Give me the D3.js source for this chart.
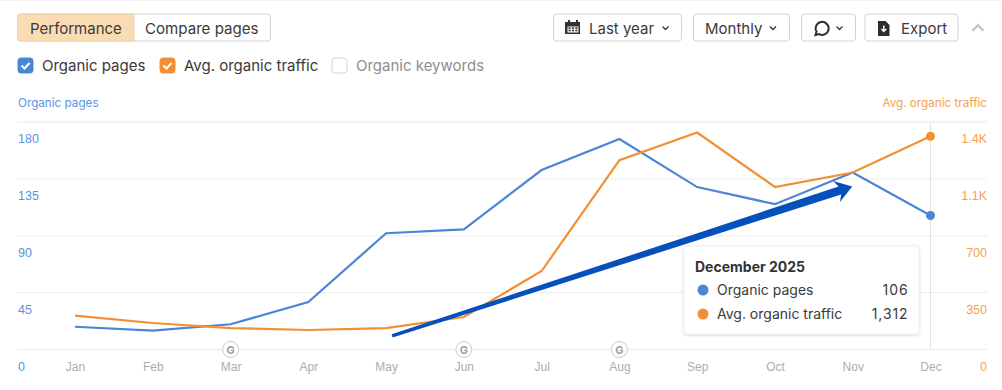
<!DOCTYPE html>
<html>
<head>
<meta charset="utf-8">
<script src="https://cdn.jsdelivr.net/npm/d3@7"></script>
<style>
  html, body { margin: 0; padding: 0; background: #fff; }
  svg { display: block; font-family: Inter, "Noto Sans", sans-serif; }
</style>
</head>
<body>
<div id="chart-container"></div>
<script>
// Chart data
const months = ["Jan", "Feb", "Mar", "Apr", "May", "Jun", "Jul", "Aug", "Sep", "Oct", "Nov", "Dec"];
const organicPages = [18, 15, 20, 37.5, 92, 95, 142, 166.5, 128.5, 115, 140, 106];
const avgTraffic = [209, 163, 132, 120, 132, 200, 483, 1165, 1335, 1000, 1089, 1312];
const leftTicks = [0, 45, 90, 135, 180];
const rightTicks = [0, 350, 700, 1050, 1400];
const rightTickLabels = ["0", "350", "700", "1.1K", "1.4K"];
const googleUpdates = ["Mar", "Jun", "Aug"];

const blue = "#4a86d8";
const orange = "#f28f33";
const width = 1002, height = 390;
const plotTop = 122, plotBottom = 349.5, gridLeft = 17, gridRight = 987;

const svg = d3.select("#chart-container")
    .append("svg")
    .attr("width", width)
    .attr("height", height);

// Scales
const x = d3.scalePoint().domain(months).range([75, 930.5]);
const yLeft = d3.scaleLinear().domain([0, 180]).range([plotBottom, plotTop]);
const yRight = d3.scaleLinear().domain([0, 1400]).range([plotBottom, plotTop]);

// Top hairline of the card
svg.append("rect").attr("width", width).attr("height", 1).attr("fill", "#f1f1f1");

// Header: segmented control
svg.append("rect").attr("x", 17.5).attr("y", 14).attr("width", 253).attr("height", 27)
    .attr("rx", 3).attr("fill", "#fff").attr("stroke", "#d3d3d3");
svg.append("path").attr("d", "M134 14H20.5a3 3 0 0 0 -3 3V38a3 3 0 0 0 3 3H134Z")
    .attr("fill", "#fadcb4").attr("stroke", "#ecd2ae");

function label(text, px, py, size, color, anchor) {
    return svg.append("text").attr("x", px).attr("y", py).attr("font-size", size)
        .attr("fill", color).attr("text-anchor", anchor || "start").text(text);
}
label("Performance", 30, 33.5, 15, "#3a3a3a");
label("Compare pages", 145, 33.5, 15.1, "#3a3a3a");

// Header: right side buttons
[[553.5, 128], [693.5, 96], [801.5, 54], [865, 93]].forEach(([bx, bw]) => {
    svg.append("rect").attr("x", bx).attr("y", 14).attr("width", bw).attr("height", 27)
        .attr("rx", 3).attr("fill", "#fff").attr("stroke", "#d3d3d3");
});
function chevron(cx, cy, color, w, sw, up) {
    const s = up ? -1 : 1;
    svg.append("path").attr("d", `M${cx - w} ${cy - s * w / 2}L${cx} ${cy + s * w / 2}L${cx + w} ${cy - s * w / 2}`)
        .attr("fill", "none").attr("stroke", color).attr("stroke-width", sw || 1.4);
}
// calendar icon
svg.append("path").attr("fill", "#333")
    .attr("fill-rule", "evenodd")
    .attr("d", "M566 22h2v-2h2v2h6v-2h2v2h2v12h-15V22Z M567.5 26.5v6h11v-6Z");
svg.append("g").selectAll("rect").data(d3.range(6)).enter().append("rect")
    .attr("x", d => 568.5 + (d % 3) * 3.4).attr("y", d => 27.3 + Math.floor(d / 3) * 2.4)
    .attr("width", 2.2).attr("height", 1.6).attr("fill", "#333");
label("Last year", 589, 33.5, 15, "#3a3a3a");
chevron(665.5, 28, "#3a3a3a", 3);
label("Monthly", 705, 33.5, 15, "#3a3a3a");
chevron(773, 28, "#3a3a3a", 3);
// comment icon
svg.append("path").attr("fill", "none").attr("stroke", "#2d2d2d").attr("stroke-width", 2)
    .attr("d", "M815.5 35l1-3.4a6.5 6.5 0 1 1 2.6 2.5Z");
chevron(839.5, 28, "#3a3a3a", 3);
// export icon
svg.append("path").attr("fill", "#2d2d2d")
    .attr("d", "M878 21h7.5l4 4v11h-11.5Z");
svg.append("path").attr("fill", "none").attr("stroke", "#fff").attr("stroke-width", 1.5)
    .attr("d", "M883.8 25.5v5.5M881.4 29l2.4 2.5 2.4-2.5");
label("Export", 901, 33.5, 15, "#3a3a3a");
chevron(978, 28, "#c4c4c4", 5.5, 2.4, true);

// Legend checkboxes
function checkbox(bx, color) {
    svg.append("rect").attr("x", bx).attr("y", 58).attr("width", 15).attr("height", 15)
        .attr("rx", 3).attr("fill", color || "#fff")
        .attr("stroke", color || "#d5d5d5");
    if (color) {
        svg.append("path").attr("d", `M${bx + 3.5} 65.5l3 3 5-5.5`).attr("fill", "none")
            .attr("stroke", "#fff").attr("stroke-width", 2);
    }
}
checkbox(18, blue);
label("Organic pages", 42, 70.5, 15, "#3a3a3a");
checkbox(160, orange);
label("Avg. organic traffic", 184, 70.5, 15, "#3a3a3a");
checkbox(332);
label("Organic keywords", 356, 70.5, 15, "#8e8e8e");

// Axis titles
label("Organic pages", 18, 106.5, 11.7, "#5a94e2");
label("Avg. organic traffic", 987, 106.5, 11.7, "#f5a04f", "end");

// Gridlines
svg.append("g").selectAll("line").data(leftTicks).enter().append("line")
    .attr("x1", gridLeft).attr("x2", gridRight)
    .attr("y1", d => yLeft(d)).attr("y2", d => yLeft(d))
    .attr("stroke", d => d === 180 ? "#f0f0f0" : "#ececec")
    .attr("stroke-width", d => d === 180 ? 1.5 : 1);

// Hover line on the last month
svg.append("line")
    .attr("x1", x("Dec")).attr("x2", x("Dec"))
    .attr("y1", plotTop).attr("y2", plotBottom)
    .attr("stroke", "#e2e2e2");

// Axes, labels sit under their gridline
const leftAxis = svg.append("g").attr("transform", "translate(18,0)")
    .call(d3.axisLeft(yLeft).tickValues(leftTicks).tickSize(0));
leftAxis.select(".domain").remove();
leftAxis.selectAll("text").attr("x", 0).attr("dy", 0).attr("y", 20.5)
    .attr("text-anchor", "start").attr("fill", "#5a94e2")
    .attr("font-size", 12.5).attr("font-family", "inherit");

const rightAxis = svg.append("g").attr("transform", "translate(987,0)")
    .call(d3.axisRight(yRight).tickValues(rightTicks).tickSize(0)
        .tickFormat((d, i) => rightTickLabels[i]));
rightAxis.select(".domain").remove();
rightAxis.selectAll("text").attr("x", 0).attr("dy", 0).attr("y", 20.5)
    .attr("text-anchor", "end").attr("fill", "#f5a04f")
    .attr("font-size", 12.5).attr("font-family", "inherit");

const bottomAxis = svg.append("g").attr("transform", `translate(0,${plotBottom})`)
    .call(d3.axisBottom(x).tickSize(0));
bottomAxis.select(".domain").remove();
bottomAxis.selectAll("text").attr("y", 21).attr("dy", 0)
    .attr("fill", "#adadad").attr("font-size", 12).attr("font-family", "inherit");

// Google update badges
const badges = svg.append("g").selectAll("g").data(googleUpdates).enter().append("g")
    .attr("transform", d => `translate(${x(d)},${plotBottom})`);
badges.append("circle").attr("r", 8).attr("fill", "#fff").attr("stroke", "#c9c9c9");
badges.append("text").attr("text-anchor", "middle").attr("y", 4).attr("font-size", 11)
    .attr("font-weight", 700).attr("fill", "#a0a0a0").text("G");

// Lines
const pagesLine = d3.line().x((d, i) => x(months[i])).y(d => yLeft(d));
const trafficLine = d3.line().x((d, i) => x(months[i])).y(d => yRight(d));
svg.append("path").datum(organicPages).attr("d", pagesLine)
    .attr("fill", "none").attr("stroke", blue).attr("stroke-width", 2.2);
svg.append("path").datum(avgTraffic).attr("d", trafficLine)
    .attr("fill", "none").attr("stroke", orange).attr("stroke-width", 2.2);

// End markers
svg.append("circle").attr("cx", x("Dec")).attr("cy", yLeft(organicPages[11])).attr("r", 4.5).attr("fill", blue);
svg.append("circle").attr("cx", x("Dec")).attr("cy", yRight(avgTraffic[11])).attr("r", 4.5).attr("fill", orange);

// Tooltip
const tip = svg.append("g").attr("transform", "translate(684,246)");
const defs = svg.append("defs");
const shadow = defs.append("filter").attr("id", "tip-shadow")
    .attr("x", "-10%").attr("y", "-10%").attr("width", "120%").attr("height", "125%");
shadow.append("feDropShadow").attr("dx", 0).attr("dy", 1).attr("stdDeviation", 1.5)
    .attr("flood-color", "#000").attr("flood-opacity", 0.16);
tip.append("rect").attr("width", 235).attr("height", 88).attr("rx", 3)
    .attr("fill", "#fff").attr("stroke", "#efefef").attr("filter", "url(#tip-shadow)");
tip.append("text").attr("x", 11).attr("y", 26).attr("font-size", 14).attr("font-weight", 700)
    .attr("fill", "#333").text("December 2025");
[["Organic pages", "106", blue, 44], ["Avg. organic traffic", "1,312", orange, 68]].forEach(([name, val, color, ry]) => {
    tip.append("circle").attr("cx", 19).attr("cy", ry).attr("r", 5.5).attr("fill", color);
    tip.append("text").attr("x", 33).attr("y", ry + 5).attr("font-size", 14).attr("fill", "#3a3a3a").text(name);
    tip.append("text").attr("x", 224.5).attr("y", ry + 5).attr("font-size", 14).attr("fill", "#3a3a3a")
        .attr("letter-spacing", 0.9).attr("text-anchor", "end").text(val);
});

// Hand drawn arrow on top of everything, from May to just before Nov
const arrowStart = [x("May") + 6, yLeft(10.7)];
const arrowTip = [x("Nov") - 0.5, yLeft(129)];
const dx = arrowTip[0] - arrowStart[0], dy = arrowTip[1] - arrowStart[1];
const len = Math.hypot(dx, dy);
const ux = dx / len, uy = dy / len, nx = -uy, ny = ux;
const pt = (along, off) => [arrowStart[0] + ux * along + nx * off, arrowStart[1] + uy * along + ny * off];
svg.append("polygon")
    .attr("fill", "#0650bd")
    .attr("points", [
        pt(0, -1.7), pt(len - 13, -4.2), pt(len - 16.5, -11), arrowTip,
        pt(len - 16.5, 11), pt(len - 13, 4.2), pt(0, 1.7)
    ].map(p => p.join(",")).join(" "));
</script>
</body>
</html>
